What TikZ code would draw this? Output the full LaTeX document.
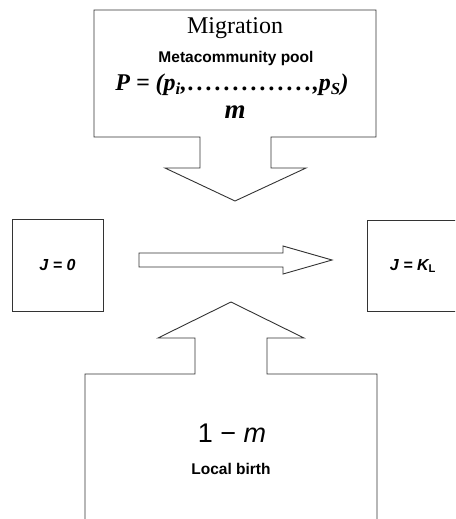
\documentclass[tikz,border=0pt]{standalone}
\usepackage{fontspec}
\setmainfont{Liberation Serif}
\setsansfont{Liberation Sans}
\usetikzlibrary{positioning}

\begin{document}
\begin{tikzpicture}[x=1pt,y=-1pt,line width=0.9pt,
    outline/.style={draw=black!80},
    state/.style={outline,minimum width=91pt,minimum height=92pt,inner sep=0pt},
    lbl/.style={inner sep=0pt,font=\sffamily\bfseries\fontsize{15.5}{17}\selectfont},
    jlbl/.style={inner sep=0pt,font=\sffamily\bfseries\itshape\fontsize{16}{18}\selectfont}] %
  \useasboundingbox (0,0) rectangle (455,519);
  \clip (0,0) rectangle (455,519);
  % migration box with its arrow
  \draw[outline] (94,10) -- (376,10) -- (376,137) -- (271,137) -- (271,168) -- (306,168)
    -- (235,201) -- (165,168) -- (200,168) -- (200,137) -- (94,137) -- cycle; %
  \node[inner sep=0pt,font=\fontsize{24}{26}\selectfont] (mig) at (235,28) {Migration}; %
  \node[lbl] (pool) at (236,58) {Metacommunity pool}; %
  \node[inner sep=0pt,font=\bfseries\itshape\fontsize{24}{26}\selectfont] (pvec) at (232,85)
    {P = (p\textsubscript{i},\xleaders\hbox to 9pt{\hss.\hss}\hskip 126pt,p\textsubscript{S})}; %
  \node[inner sep=0pt,font=\bfseries\itshape\fontsize{27}{28}\selectfont] (m) at (235,112) {m}; %
  % the two states
  \node[state] (empty) at (57.5,265) {}; %
  \node[jlbl] (j0) at (empty.center) {J = 0}; %
  \draw[outline] (367,220) rectangle (470,311); %
  \node[jlbl] (jk) at (413,266) {J = K\textsubscript{\upshape L}}; %
  % growth arrow
  \draw[outline] (139,253) -- (283,253) -- (283,246) -- (332,260) -- (283,274) -- (283,267)
    -- (139,267) -- cycle; %
  % local birth box with its arrow
  \draw[outline] (85,540) -- (85,374) -- (195,374) -- (195,338) -- (158,338) -- (231,302)
    -- (304,338) -- (267,338) -- (267,374) -- (377,374) -- (377,540); %
  \node[inner sep=0pt,font=\sffamily\fontsize{27}{28}\selectfont] (onem) at (232,433) {1 − \textit{m}}; %
  \node[lbl] (birth) at (231,469) {Local birth}; %
\end{tikzpicture}
\end{document}
